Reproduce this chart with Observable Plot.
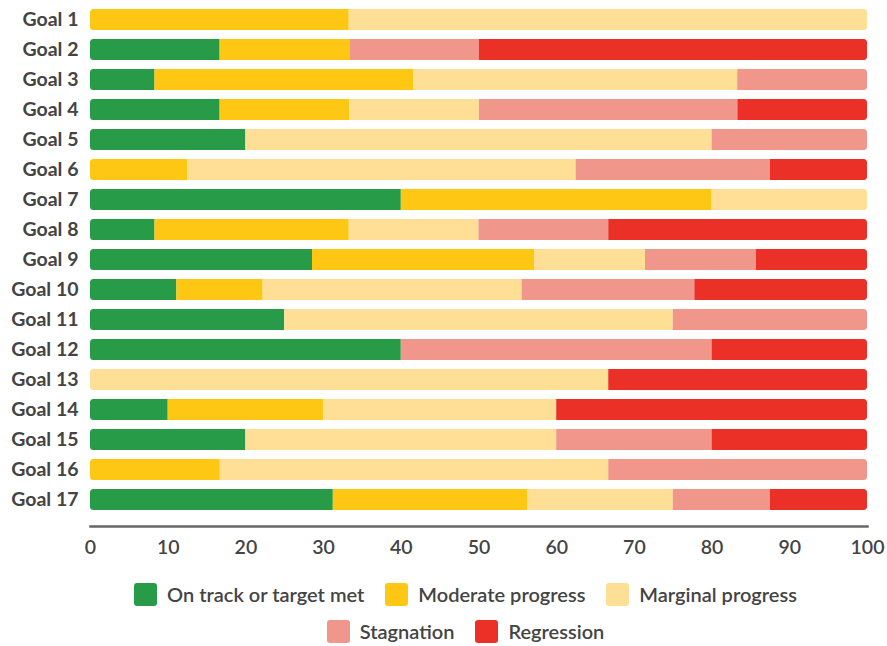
<!DOCTYPE html>
<html><head><meta charset="utf-8">
<script src="https://cdn.jsdelivr.net/npm/d3@7"></script>
<script src="https://cdn.jsdelivr.net/npm/@observablehq/plot@0.6"></script>
<style>
body{margin:0;background:#fff;font-family:Lato,sans-serif;}
#chart{width:887px;}
.legend{width:843px;padding-left:44px;margin-top:14px;}
.lrow{display:flex;justify-content:center;align-items:center;height:28px;margin-bottom:9px;}
.item{display:flex;align-items:center;margin:0 10.5px;}
.sw{width:23px;height:23px;border-radius:3px;margin-right:10px;}
.lab{font-size:20px;color:#444;font-weight:600;}
</style></head><body><div id="chart"></div><div class="legend" id="legend"></div><script>
const goals = ["Goal 1","Goal 2","Goal 3","Goal 4","Goal 5","Goal 6","Goal 7","Goal 8","Goal 9","Goal 10","Goal 11","Goal 12","Goal 13","Goal 14","Goal 15","Goal 16","Goal 17"];
const categories = ["On track or target met","Moderate progress","Marginal progress","Stagnation","Regression"];
const colors = ["#279b48","#fdc713","#ffdf95","#f0968a","#eb3027"];
const onTrack    = [0,16.7,8.3,16.7,20,0,40,8.3,28.6,11.1,25,40,0,10,20,0,31.25];
const moderate   = [33.3,16.7,33.3,16.7,0,12.5,40,25,28.6,11.1,0,0,0,20,0,16.7,25];
const marginal   = [66.7,0,41.7,16.7,60,50,20,16.7,14.3,33.3,50,0,66.7,30,40,50,18.75];
const stagnation = [0,16.7,16.7,33.3,20,25,0,16.7,14.3,22.2,25,40,0,0,20,33.3,12.5];
const regression = [0,50,0,16.7,0,12.5,0,33.3,14.3,22.2,0,20,33.3,40,20,0,12.5];
const xTicks = [0,10,20,30,40,50,60,70,80,90,100];

const series = [onTrack, moderate, marginal, stagnation, regression];
const data = goals.flatMap((g, i) => categories.map((c, j) => ({goal: g, status: c, value: series[j][i]})));

const plot = Plot.plot({
  width: 887, height: 566,
  marginLeft: 90, marginRight: 20, marginTop: 0, marginBottom: 40,
  style: {fontFamily: "Lato, sans-serif", background: "#fff"},
  x: {domain: [0, 1], label: null},
  y: {domain: goals, range: [4, 514], paddingInner: 0.3, paddingOuter: 0.15, label: null},
  color: {domain: categories, range: colors},
  marks: [
    Plot.barX(goals, {x1: 0, x2: 1, y: d => d, rx: 3.5, fill: "#000"}),
    Plot.barX(data, Plot.stackX({x: "value", y: "goal", fill: "status", order: categories, offset: "normalize"})),
    Plot.axisY({tickSize: 0, tickPadding: 12, fontSize: 19.5, fontWeight: 700, color: "#444"}),
    Plot.axisX({ticks: xTicks.map(d => d / 100), tickFormat: d => String(Math.round(d * 100)), tickSize: 0, tickPadding: 14, fontSize: 19.5, fontWeight: 600, color: "#444"}),
    Plot.frame({anchor: "bottom", stroke: "#666", strokeWidth: 2.5})
  ]
});

// Turn the first bar layer into a clip path giving each row rounded ends
const groups = plot.querySelectorAll(":scope > g");
const clipG = groups[0], stackG = groups[1];
const ns = "http://www.w3.org/2000/svg";
const defs = document.createElementNS(ns, "defs");
const cp = document.createElementNS(ns, "clipPath");
cp.setAttribute("id", "rowclip");
clipG.querySelectorAll("rect").forEach(r => cp.appendChild(r));
defs.appendChild(cp);
plot.insertBefore(defs, plot.firstChild);
clipG.remove();
stackG.setAttribute("clip-path", "url(#rowclip)");

document.getElementById("chart").appendChild(plot);

const legend = document.getElementById("legend");
[[0,1,2],[3,4]].forEach(row => {
  const r = document.createElement("div");
  r.className = "lrow";
  row.forEach(j => {
    const it = document.createElement("div");
    it.className = "item";
    it.innerHTML = `<div class="sw" style="background:${colors[j]}"></div><span class="lab">${categories[j]}</span>`;
    r.appendChild(it);
  });
  legend.appendChild(r);
});
</script></body></html>
